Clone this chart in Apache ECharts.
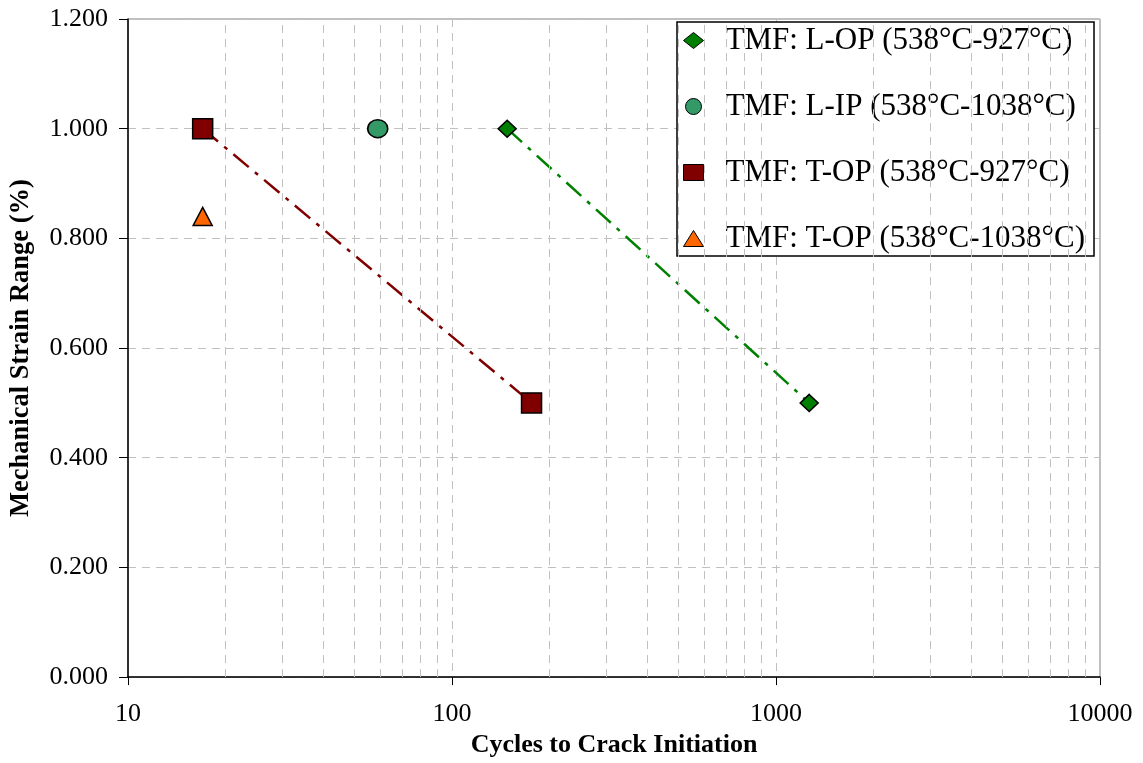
<!DOCTYPE html>
<html>
<head>
<meta charset="utf-8">
<script src="https://cdn.jsdelivr.net/npm/echarts@6/dist/echarts.min.js"></script>
<style>
html,body{margin:0;padding:0;background:#fff;}
#chart{width:1143px;height:763px;}
</style>
</head>
<body>
<div id="chart"></div>
<script>
// ---- data ----
const seriesNames = [
  'TMF: L-OP (538°C-927°C)',
  'TMF: L-IP (538°C-1038°C)',
  'TMF: T-OP (538°C-927°C)',
  'TMF: T-OP (538°C-1038°C)'
];
const lopData = [[148, 1.0], [1266, 0.5]];
const lipData = [[59, 1.0]];
const top927Data = [[17, 1.0], [176, 0.5]];
const top1038Data = [[17, 0.84]];
const yTicks = [0, 0.2, 0.4, 0.6, 0.8, 1.0, 1.2];
const xTicks = [10, 100, 1000, 10000];
const minorGridX = [20,30,40,50,60,70,80,90,200,300,400,500,600,700,800,900,2000,3000,4000,5000,6000,7000,8000,9000];

const FONT = "'Liberation Serif','Times New Roman',serif";
const chart = echarts.init(document.getElementById('chart'));
const dashGrid = {color: '#c0c0c0', width: 1, type: [8, 6]};

const option = {
  backgroundColor: '#fff',
  animation: false,
  grid: {left: 128, right: 43, top: 19, bottom: 83, show: true, borderColor: '#808080', borderWidth: 1},
  xAxis: {
    type: 'log', logBase: 10, min: xTicks[0], max: xTicks[xTicks.length - 1],
    name: 'Cycles to Crack Initiation', nameLocation: 'middle', nameGap: 54,
    nameTextStyle: {fontFamily: FONT, fontSize: 26, fontWeight: 'bold', color: '#000'},
    axisLine: {lineStyle: {color: '#000', width: 1.5}},
    axisTick: {show: true, inside: false, length: 8, lineStyle: {color: '#000'}},
    axisLabel: {fontFamily: FONT, fontSize: 26, color: '#000', margin: 24, formatter: v => String(Math.round(v))},
    splitLine: {show: true, lineStyle: dashGrid},
    minorTick: {show: false}
  },
  yAxis: {
    type: 'value', min: yTicks[0], max: yTicks[yTicks.length - 1], interval: 0.2,
    name: 'Mechanical Strain Range (%)', nameLocation: 'middle', nameGap: 93,
    nameTextStyle: {fontFamily: FONT, fontSize: 26.5, fontWeight: 'bold', color: '#000'},
    axisLine: {show: true, lineStyle: {color: '#000', width: 1.5}},
    axisTick: {show: true, inside: false, length: 9, lineStyle: {color: '#000'}},
    axisLabel: {fontFamily: FONT, fontSize: 26, color: '#000', margin: 20, formatter: v => v.toFixed(3)},
    splitLine: {show: true, lineStyle: dashGrid}
  },
  legend: {
    orient: 'vertical', left: 677, top: 22,
    padding: [3, 9, 2, 6], itemGap: 35,
    itemWidth: 20, itemHeight: 16,
    borderColor: '#000', borderWidth: 1.5, backgroundColor: '#fff',
    textStyle: {fontFamily: FONT, fontSize: 31, lineHeight: 30, color: '#000', padding: [0, 0, 0, 17]},
    itemStyle: {borderColor: '#000', borderWidth: 1, opacity: 1},
    data: [
      {name: seriesNames[0], icon: 'diamond'},
      {name: seriesNames[1], icon: 'circle'},
      {name: seriesNames[2], icon: 'rect'},
      {name: seriesNames[3], icon: 'triangle'}
    ]
  },
  series: [
    {
      type: 'line', data: top927Data, symbol: 'none', silent: true, z: 2,
      lineStyle: {color: '#800000', width: 2.5, type: [20, 8, 4, 8]},
      markLine: {
        silent: true, symbol: 'none', label: {show: false},
        lineStyle: dashGrid,
        data: minorGridX.map(v => ({xAxis: v}))
      }
    },
    {
      type: 'line', data: lopData, symbol: 'none', silent: true, z: 2,
      lineStyle: {color: '#008000', width: 2.5, type: [20, 8, 4, 8]}
    },
    {
      name: seriesNames[0], type: 'scatter', data: lopData, symbol: 'diamond', symbolSize: [18, 17], z: 5,
      itemStyle: {color: '#008000', borderColor: '#000', borderWidth: 1.5, opacity: 1}
    },
    {
      name: seriesNames[1], type: 'scatter', data: lipData, symbol: 'circle', symbolSize: [20, 18], z: 5,
      itemStyle: {color: '#339966', borderColor: '#000', borderWidth: 1.5, opacity: 1}
    },
    {
      name: seriesNames[2], type: 'scatter', data: top927Data, symbol: 'rect', symbolSize: 20, z: 5,
      itemStyle: {color: '#800000', borderColor: '#000', borderWidth: 1.5, opacity: 1}
    },
    {
      name: seriesNames[3], type: 'scatter', data: top1038Data, symbol: 'triangle', symbolSize: [19, 18], z: 5,
      itemStyle: {color: '#FF6600', borderColor: '#000', borderWidth: 1.5, opacity: 1}
    }
  ]
};
chart.setOption(option);
</script>
</body>
</html>
